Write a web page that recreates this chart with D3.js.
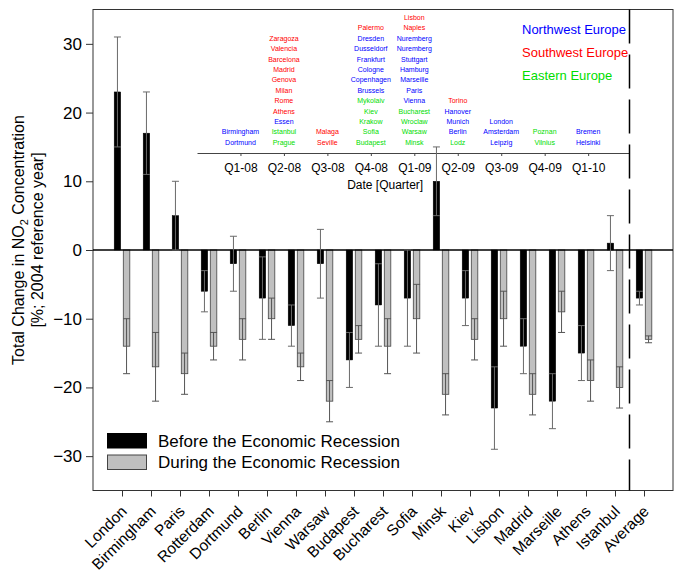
<!DOCTYPE html>
<html><head><meta charset="utf-8">
<script src="https://cdn.jsdelivr.net/npm/d3@7"></script>
<style>
html,body{margin:0;padding:0;background:#fff;}
text{font-family:"Liberation Sans",Arial,sans-serif;}
</style></head>
<body><svg id="chart" width="680" height="574"></svg>
<script>
const categories = ["London","Birmingham","Paris","Rotterdam","Dortmund","Berlin","Vienna","Warsaw","Budapest","Bucharest","Sofia","Minsk","Kiev","Lisbon","Madrid","Marseille","Athens","Istanbul","Average"];
const before    = [23,17,5,-6,-2,-7,-11,-2,-16,-8,-7,10,-7,-23,-14,-22,-15,1,-7];
const beforeErr = [8,6,5,3,4,6,3,5,4,6,7,5,4,6,4,4,4,4,1];
const during    = [-14,-17,-18,-14,-13,-10,-17,-22,-13,-14,-10,-21,-13,-10,-21,-9,-19,-20,-13];
const duringErr = [4,5,3,2,3,3,2,3,2,4,5,3,3,4,3,3,3,3,0.5];
const yTicks = [-30,-20,-10,0,10,20,30];
const seriesNames = ["Before the Economic Recession","During the Economic Recession"];

const quarters = ["Q1-08","Q2-08","Q3-08","Q4-08","Q1-09","Q2-09","Q3-09","Q4-09","Q1-10"];
const quarterCities = [
  ["Birmingham","Dortmund"],
  ["Zaragoza","Valencia","Barcelona","Madrid","Genova","Milan","Rome","Athens","Essen","Istanbul","Prague"],
  ["Malaga","Seville"],
  ["Palermo","Dresden","Dusseldorf","Frankfurt","Cologne","Copenhagen","Brussels","Mykolaiv","Kiev","Krakow","Sofia","Budapest"],
  ["Lisbon","Naples","Nuremberg","Nuremberg","Stuttgart","Hamburg","Marseille","Paris","Vienna","Bucharest","Wroclaw","Warsaw","Minsk"],
  ["Torino","Hanover","Munich","Berlin","Lodz"],
  ["London","Amsterdam","Leipzig"],
  ["Poznan","Vilnius"],
  ["Bremen","Helsinki"]
];
const quarterRegions = [
  ["NW","NW"],
  ["SW","SW","SW","SW","SW","SW","SW","SW","NW","E","E"],
  ["SW","SW"],
  ["SW","NW","NW","NW","NW","NW","NW","E","E","E","E","E"],
  ["SW","SW","NW","NW","NW","NW","NW","NW","NW","E","E","E","E"],
  ["SW","NW","NW","NW","E"],
  ["NW","NW","NW"],
  ["E","E"],
  ["NW","NW"]
];
const regionNames = ["Northwest Europe","Southwest Europe","Eastern Europe"];
const regionKeys = ["NW","SW","E"];
const regionColors = {NW:"#0000ff", SW:"#ff0000", E:"#00dd00"};

const svg = d3.select("#chart");
const L = 93, R = 673, T = 9.5, B = 490.5;

const x = d3.scalePoint().domain(categories).range([L, R]).padding(1);
const y = d3.scaleLinear().domain([-35, 35]).range([B, T]);

// frame
svg.append("rect").attr("x", L).attr("y", T).attr("width", R - L).attr("height", B - T)
  .attr("fill", "none").attr("stroke", "#333").attr("stroke-width", 1);

// y axis
const yAxis = svg.append("g").attr("transform", `translate(${L},0)`)
  .call(d3.axisLeft(y).tickValues(yTicks).tickSize(7).tickPadding(4));
yAxis.select(".domain").remove();
yAxis.selectAll("line").attr("stroke", "#333");
yAxis.selectAll("text").attr("font-size", 17).attr("fill", "#000")
  .style("font-family", '"Liberation Sans",Arial,sans-serif');

// x axis
const xAxis = svg.append("g").attr("transform", `translate(0,${B})`)
  .call(d3.axisBottom(x).tickSize(6).tickFormat(""));
xAxis.select(".domain").remove();
xAxis.selectAll("line").attr("stroke", "#333");
svg.append("g").selectAll("text").data(categories).join("text")
  .attr("transform", d => `translate(${x(d) + 2},${B + 18}) rotate(-45)`)
  .attr("text-anchor", "end").attr("dy", "0.35em")
  .attr("font-size", 15.5).text(d => d);

// y title
const yt = svg.append("text").attr("transform", `translate(24,${(T + B) / 2 - 10}) rotate(-90)`)
  .attr("text-anchor", "middle").attr("font-size", 16);
yt.append("tspan").text("Total Change in NO");
yt.append("tspan").attr("font-size", 11).attr("dy", 4).text("2");
yt.append("tspan").attr("dy", -4).text(" Concentration");
svg.append("text").attr("transform", `translate(43,${(T + B) / 2 - 10}) rotate(-90)`)
  .attr("text-anchor", "middle").attr("font-size", 16).text("[%; 2004 reference year]");

// inset timeline
const q = d3.scaleLinear().domain([-1, 8.94]).range([197, 629]);
const qAxis = svg.append("g").attr("transform", "translate(0,153)")
  .call(d3.axisBottom(q).tickValues(d3.range(quarters.length)).tickSize(3).tickPadding(7)
    .tickFormat(i => quarters[i]).tickSizeOuter(0));
qAxis.select(".domain").attr("stroke", "#444");
qAxis.selectAll("line").attr("stroke", "#444");
qAxis.selectAll("text").attr("font-size", 12).attr("fill", "#000")
  .style("font-family", '"Liberation Sans",Arial,sans-serif');
svg.append("text").attr("x", q(3.33)).attr("y", 189).attr("text-anchor", "middle")
  .attr("font-size", 12).text("Date [Quarter]");

quarterCities.forEach((list, qi) => {
  const n = list.length;
  svg.append("g").selectAll("text").data(list).join("text")
    .attr("x", q(qi)).attr("y", (d, k) => 142.3 - 10.4 * (n - 1 - k) + 2.5)
    .attr("text-anchor", "middle").attr("font-size", 7)
    .attr("fill", (d, k) => regionColors[quarterRegions[qi][k]]).text(d => d);
});

svg.append("g").selectAll("text").data(regionNames).join("text")
  .attr("x", 522).attr("y", (d, i) => 29.3 + 23 * i + 4.7)
  .attr("font-size", 13).attr("fill", (d, i) => regionColors[regionKeys[i]]).text(d => d);

// dashed separator
svg.append("line").attr("x1", (x("Istanbul") + x("Average")) / 2).attr("x2", (x("Istanbul") + x("Average")) / 2)
  .attr("y1", T).attr("y2", B).attr("stroke", "#000").attr("stroke-width", 1.5)
  .attr("stroke-dasharray", "34,11");

// bars
const bw = 6.5, off = 1.3;
const bars = svg.append("g");
bars.selectAll(".b").data(categories).join("rect")
  .attr("x", d => x(d) - off - bw).attr("width", bw)
  .attr("y", (d, i) => y(Math.max(0, before[i])))
  .attr("height", (d, i) => Math.abs(y(before[i]) - y(0)))
  .attr("fill", "#000").attr("stroke", "#000").attr("stroke-width", 0.5);
bars.selectAll(".g").data(categories).join("rect")
  .attr("x", d => x(d) + off).attr("width", bw)
  .attr("y", (d, i) => y(Math.max(0, during[i])))
  .attr("height", (d, i) => Math.abs(y(during[i]) - y(0)))
  .attr("fill", "#c0c0c0").attr("stroke", "#444").attr("stroke-width", 0.8);

// zero line
svg.append("line").attr("x1", L).attr("x2", R).attr("y1", y(0)).attr("y2", y(0))
  .attr("stroke", "#000").attr("stroke-width", 1.3);

// error bars
function errBars(vals, errs, cx, col) {
  const g = svg.append("g").attr("stroke", col).attr("stroke-width", 1);
  categories.forEach((c, i) => {
    const xc = cx(c), lo = y(vals[i] - errs[i]), hi = y(vals[i] + errs[i]);
    g.append("line").attr("x1", xc).attr("x2", xc).attr("y1", lo).attr("y2", hi);
    g.append("line").attr("x1", xc - 3.5).attr("x2", xc + 3.5).attr("y1", lo).attr("y2", lo);
    g.append("line").attr("x1", xc - 3.5).attr("x2", xc + 3.5).attr("y1", hi).attr("y2", hi);
  });
}
errBars(before, beforeErr, c => x(c) - off - bw / 2, "#6a6a6a");
errBars(during, duringErr, c => x(c) + off + bw / 2, "#555");

// legend
const lg = svg.append("g");
[["#000", "#000"], ["#c0c0c0", "#444"]].forEach((s, i) => {
  lg.append("rect").attr("x", 107.5).attr("y", 433.5 + 21.5 * i).attr("width", 39).attr("height", 14.5)
    .attr("fill", s[0]).attr("stroke", s[1]).attr("stroke-width", 1);
  lg.append("text").attr("x", 158).attr("y", 441 + 21.5 * i).attr("dy", "0.35em")
    .attr("font-size", 17).text(seriesNames[i]);
});
</script></body></html>
